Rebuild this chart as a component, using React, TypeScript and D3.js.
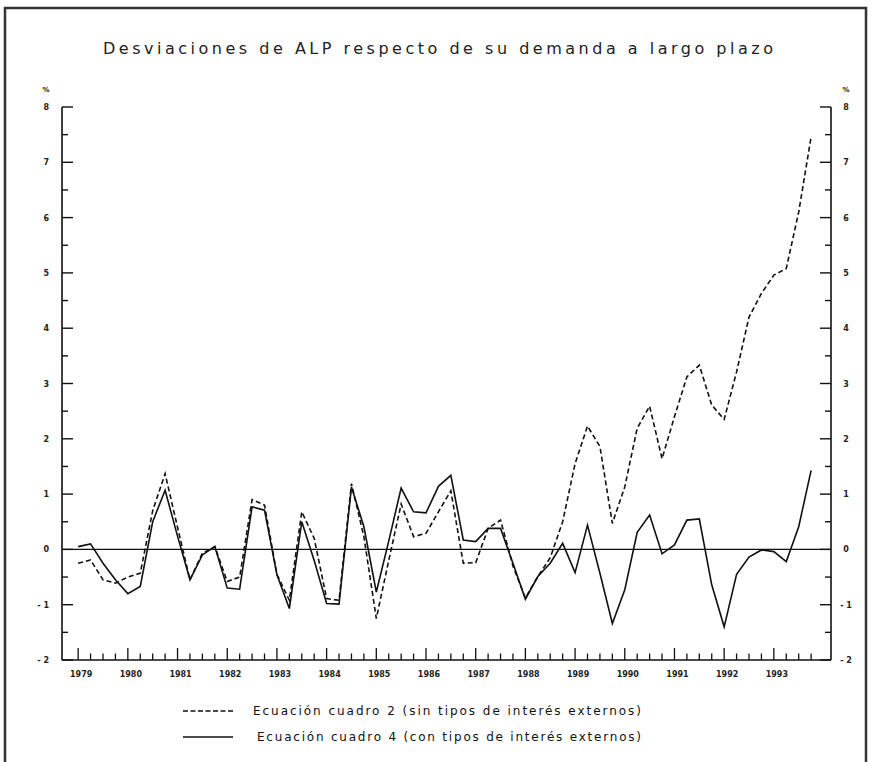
import React from "react";
import * as d3 from "d3";

const TITLE = "Desviaciones de ALP respecto de su demanda a largo plazo";
const YEARS = d3.range(1979, 1994);
const QUARTERS = d3.range(0, 60); // 1979Q1 .. 1993Q4
const Y_TICKS = [-2, -1, 0, 1, 2, 3, 4, 5, 6, 7, 8];
const Y_MINOR = [-1.5, -0.5, 0.5, 1.5, 2.5, 3.5, 4.5, 5.5, 6.5, 7.5];

// Ecuación cuadro 2 (sin tipos de interés externos) - dashed
const cuadro2 = [
  -0.25, -0.19, -0.55, -0.61, -0.5, -0.43, 0.7, 1.37, 0.4, -0.55,
  -0.07, 0.05, -0.58, -0.5, 0.9, 0.8, -0.45, -0.92, 0.68, 0.2,
  -0.89, -0.92, 1.19, 0.23, -1.25, -0.2, 0.82, 0.23, 0.29, 0.68,
  1.06, -0.25, -0.24, 0.38, 0.53, -0.3, -0.88, -0.49, -0.15, 0.5,
  1.55, 2.23, 1.86, 0.47, 1.13, 2.19, 2.59, 1.64, 2.4, 3.12,
  3.33, 2.61, 2.35, 3.21, 4.2, 4.63, 4.96, 5.08, 6.1, 7.46,
];

// Ecuación cuadro 4 (con tipos de interés externos) - solid
const cuadro4 = [
  0.05, 0.1, -0.25, -0.55, -0.8, -0.67, 0.5, 1.07, 0.24, -0.55,
  -0.1, 0.05, -0.7, -0.72, 0.77, 0.71, -0.46, -1.07, 0.5, -0.2,
  -0.98, -0.99, 1.13, 0.41, -0.77, 0.15, 1.11, 0.68, 0.66, 1.14,
  1.34, 0.17, 0.14, 0.38, 0.38, -0.25, -0.9, -0.49, -0.25, 0.11,
  -0.42, 0.44, -0.43, -1.34, -0.73, 0.31, 0.62, -0.08, 0.08, 0.53,
  0.55, -0.64, -1.4, -0.45, -0.14, -0.01, -0.04, -0.22, 0.41, 1.43,
];

const LEGEND = [
  { label: "Ecuación cuadro 2 (sin tipos de interés externos)", dash: "5,2.5" },
  { label: "Ecuación cuadro 4 (con tipos de interés externos)", dash: null },
];

export default function App() {
  const W = 872;
  const H = 762;
  const left = 62;
  const right = 831;
  const top = 107;
  const bottom = 660;

  const x = d3.scaleLinear().domain([-1.3, 60.6]).range([left, right]);
  const y = d3.scaleLinear().domain([-2, 8]).range([bottom, top]);

  const line = d3
    .line<number>()
    .x((_, i) => x(i))
    .y((d) => y(d));

  const tickFont = "'DejaVu Sans', 'Liberation Sans', sans-serif";

  return (
    <svg
      width={W}
      height={H}
      style={{ position: "absolute", left: 0, top: 0, background: "#fff" }}
    >
      <rect x={0} y={0} width={W} height={H} fill="#fff" />
      {/* frame */}
      <path
        d={`M5,${H} L5,8 L866,8 L866,${H}`}
        fill="none"
        stroke="#333"
        strokeWidth={2.5}
      />
      {/* title */}
      <text
        x={103}
        y={54}
        fontFamily={tickFont}
        fontSize={16}
        textLength={670}
        lengthAdjust="spacing"
        fill="#222"
      >
        {TITLE}
      </text>

      {/* axes */}
      <line x1={left} x2={left} y1={top} y2={bottom} stroke="#111" strokeWidth={1.6} />
      <line x1={right} x2={right} y1={top} y2={bottom} stroke="#111" strokeWidth={1.6} />
      <line x1={left} x2={right} y1={bottom} y2={bottom} stroke="#111" strokeWidth={1.6} />
      {/* zero line */}
      <line x1={left} x2={right} y1={y(0)} y2={y(0)} stroke="#111" strokeWidth={1.2} />

      {/* y ticks */}
      {Y_TICKS.map((t) => (
        <g key={"yt" + t}>
          <line x1={left} x2={left + 11} y1={y(t)} y2={y(t)} stroke="#111" strokeWidth={1.4} />
          <line x1={right - 11} x2={right} y1={y(t)} y2={y(t)} stroke="#111" strokeWidth={1.4} />
          <text
            x={49}
            y={y(t) + 3}
            textAnchor="end"
            fontFamily={tickFont}
            fontSize={8}
            fontWeight="bold"
            fill="#222"
          >
            {t < 0 ? "- " + Math.abs(t) : String(t)}
          </text>
          <text
            x={846}
            y={y(t) + 3}
            textAnchor="middle"
            fontFamily={tickFont}
            fontSize={8}
            fontWeight="bold"
            fill="#222"
          >
            {t < 0 ? "- " + Math.abs(t) : String(t)}
          </text>
        </g>
      ))}
      {Y_MINOR.map((t) => (
        <g key={"ym" + t}>
          <line x1={left} x2={left + 6} y1={y(t)} y2={y(t)} stroke="#111" strokeWidth={1.4} />
          <line x1={right - 6} x2={right} y1={y(t)} y2={y(t)} stroke="#111" strokeWidth={1.4} />
        </g>
      ))}
      <text x={46} y={92} textAnchor="middle" fontFamily={tickFont} fontSize={7} fontWeight="bold" fill="#222">
        %
      </text>
      <text x={846} y={92} textAnchor="middle" fontFamily={tickFont} fontSize={7} fontWeight="bold" fill="#222">
        %
      </text>

      {/* x ticks */}
      {QUARTERS.map((q) => (
        <line
          key={"xq" + q}
          x1={x(q)}
          x2={x(q)}
          y1={bottom}
          y2={bottom - (q % 4 === 0 ? 12 : 6.5)}
          stroke="#111"
          strokeWidth={1.3}
        />
      ))}
      {YEARS.map((yr, k) => (
        <text
          key={"yl" + yr}
          x={x(k * 4) + 3}
          y={677}
          textAnchor="middle"
          fontFamily={tickFont}
          fontSize={8}
          fontWeight="bold"
          fill="#222"
        >
          {yr}
        </text>
      ))}

      {/* series */}
      <path d={line(cuadro2) || ""} fill="none" stroke="#111" strokeWidth={1.6} strokeDasharray="5,3" />
      <path d={line(cuadro4) || ""} fill="none" stroke="#111" strokeWidth={1.6} />

      {/* legend */}
      {LEGEND.map((l, i) => (
        <g key={"lg" + i}>
          <line
            x1={183}
            x2={233}
            y1={711 + i * 26}
            y2={711 + i * 26}
            stroke="#111"
            strokeWidth={1.6}
            strokeDasharray={l.dash || undefined}
          />
          <text
            x={i === 0 ? 253 : 257}
            y={715 + i * 26}
            fontFamily={tickFont}
            fontSize={12}
            textLength={i === 0 ? 388 : 384}
            lengthAdjust="spacing"
            fill="#111"
          >
            {l.label}
          </text>
        </g>
      ))}
    </svg>
  );
}
